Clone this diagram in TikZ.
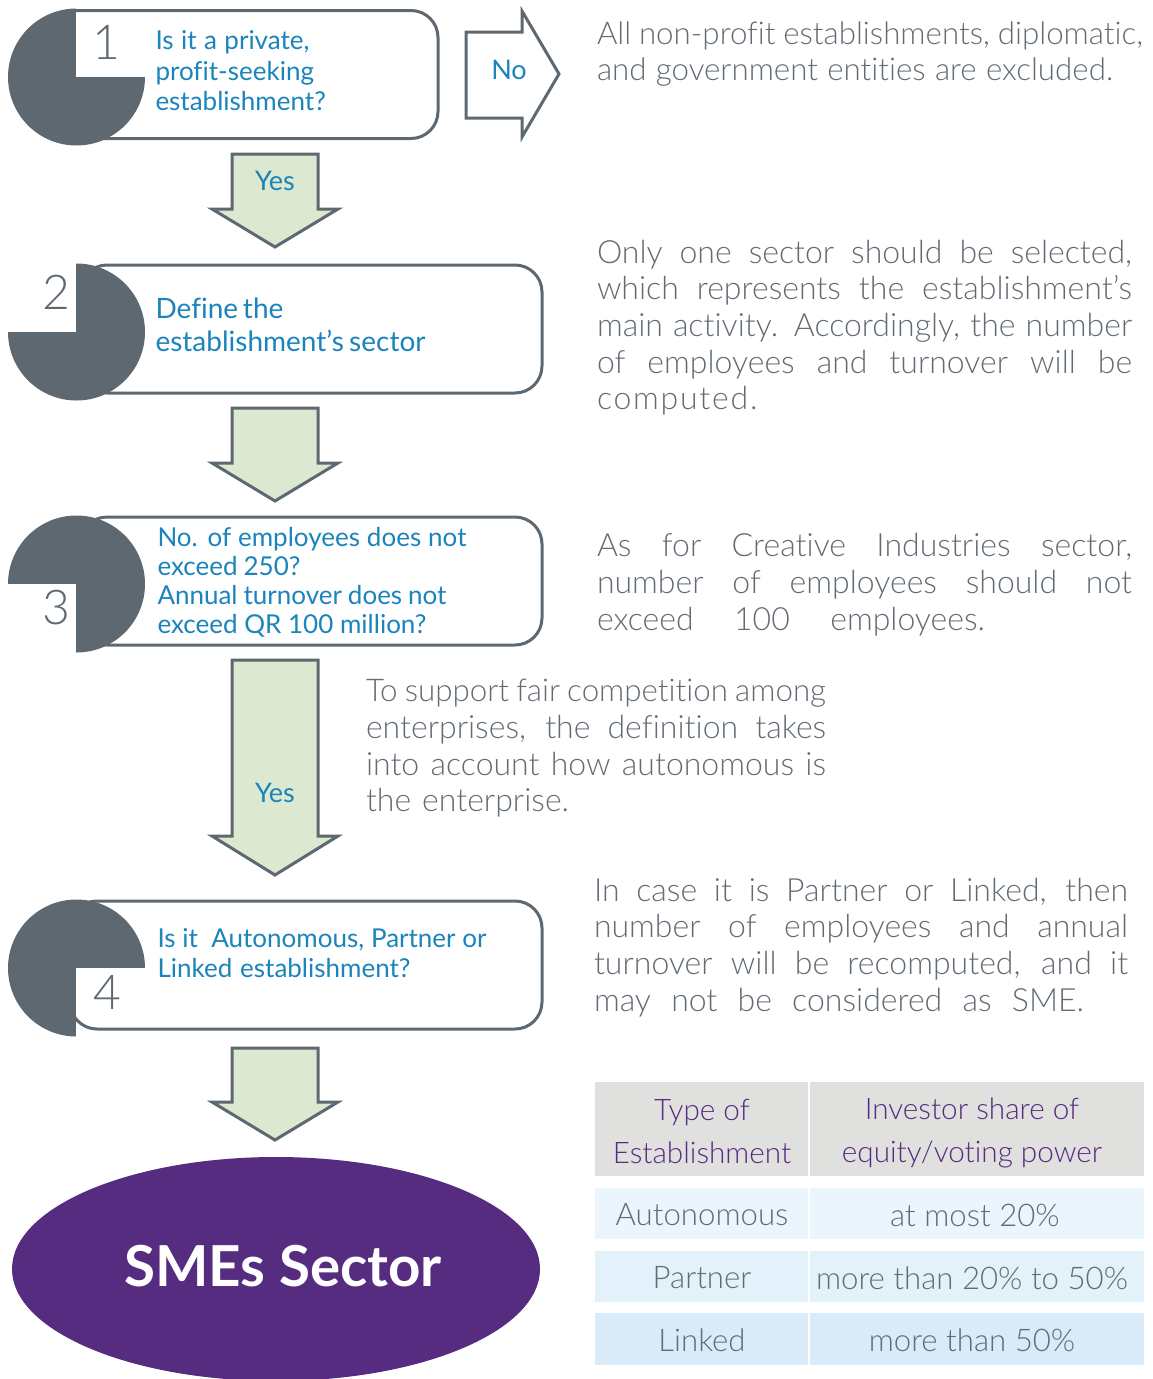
\documentclass[tikz,border=0pt]{standalone}
\usepackage{fontspec}
\setmainfont{Lato Light}[Ligatures=CommonOff]
\newfontfamily\boldf{Lato}[BoldFont={* Bold},Ligatures=CommonOff]
\definecolor{slate}{HTML}{5D6871}
\definecolor{greytxt}{HTML}{626B73}
\definecolor{bluetxt}{HTML}{1B84BC}
\definecolor{leaf}{HTML}{DCE8CF}
\definecolor{grape}{HTML}{562C80}
\definecolor{headgrey}{HTML}{E0E0DF}
\definecolor{rowa}{HTML}{EAF5FC}
\definecolor{rowb}{HTML}{E3F1FA}
\definecolor{rowc}{HTML}{D9EBF9}
\tikzset{
  x=1pt,y=-1pt,
  line/.style={anchor=base west,inner sep=0pt,outer sep=0pt},
  body/.style={line,text=greytxt,font=\fontsize{32}{36}\selectfont},
  tightbody/.style={line,text=greytxt,font=\fontsize{31.3}{36}\selectfont},
  ask/.style={line,text=bluetxt,font=\fontsize{26}{30}\selectfont\boldf},
  asklarge/.style={line,text=bluetxt,font=\fontsize{28}{32}\selectfont\boldf},
  num/.style={anchor=center,inner sep=0pt,text=slate,font=\fontsize{48}{50}\selectfont},
  arrowlabel/.style={anchor=center,inner sep=0pt,text=bluetxt,font=\fontsize{27}{30}\selectfont\boldf},
  blockarrow/.style={draw=slate,line width=3pt,miter limit=10,line join=miter},
  cellhead/.style={anchor=center,inner sep=0pt,align=center,text=grape,font=\fontsize{29.7}{43}\selectfont},
  cell/.style={anchor=center,inner sep=0pt,text=greytxt,font=\fontsize{31.2}{36}\selectfont},
}
% name, x, baseline y, width, text, style
\newcommand{\fitline}[6]{\node[#6] (#1) at (#2,#3) {\makebox[#4pt][s]{#5}};}
% x-left, top, x-right, bottom, centre y, quadrant rectangle
\newcommand{\stepshape}[6]{%
  \fill[white,rounded corners=27pt] (#1,#2) rectangle (#3,#4);
  \fill[slate] (76.5,#5) circle[radius=68.5pt];
  \fill[white] #6;
  \draw[slate,line width=3pt,rounded corners=27pt] (#1,#2) rectangle (#3,#4);
}
% top, shoulder, tip
\newcommand{\blockdown}[3]{%
  \draw[blockarrow,fill=leaf] (232,#1) -- (318,#1) -- (318,#2) -- (338,#2) -- (275,#3) -- (212,#2) -- (232,#2) -- cycle;
}
\begin{document}
\begin{tikzpicture}
\useasboundingbox (0,0) rectangle (1152,1379);

% step shapes
\stepshape{50}{10.5}{438}{138.5}{77}{(76,6) rectangle (147,77)}
\stepshape{80}{265}{542}{393}{332}{(5,261) rectangle (76,332)}
\stepshape{80}{517}{542}{645}{584}{(5,584) rectangle (76,656)}
\stepshape{70}{901}{542}{1029}{968}{(76,968) rectangle (147,1040)}

\node[num] (n1) at (106,42) {1};
\node[num] (n2) at (56,292) {2};
\node[num] (n3) at (56,608) {3};
\node[num] (n4) at (107,992) {4};

% questions
\fitline{qa}{155.5}{49}{154}{Is it a private,}{ask}
\fitline{qb}{155.5}{80}{158}{profit-seeking}{ask}
\fitline{qc}{155.5}{110}{171}{establishment?}{ask}
\fitline{qd}{155.5}{318}{127}{Define the}{asklarge}
\fitline{qe}{155.5}{351}{270}{establishment’s sector}{asklarge}
\fitline{qf}{157.5}{546}{309}{No. of employees does not}{ask}
\fitline{qg}{157.5}{575}{143}{exceed 250?}{ask}
\fitline{qh}{157.5}{604}{289}{Annual turnover does not}{ask}
\fitline{qi}{157.5}{633}{269}{exceed QR 100 million?}{ask}
\fitline{qj}{157.5}{947}{329}{Is it \ Autonomous, Partner or}{ask}
\fitline{qk}{157.5}{977}{253}{Linked establishment?}{ask}

% arrows
\draw[blockarrow,fill=white] (466,32) -- (522,32) -- (522,11) -- (559,74) -- (522,137) -- (522,118) -- (466,118) -- cycle;
\node[arrowlabel] (no) at (509,70) {No};
\blockdown{154}{209}{247}
\node[arrowlabel] (yesa) at (275,181) {Yes};
\blockdown{408}{463}{501}
\blockdown{660}{836}{875}
\node[arrowlabel] (yesb) at (275,793) {Yes};
\blockdown{1048}{1102}{1140}

% right notes
\fitline{ta}{597}{44}{546}{All non-profit establishments, diplomatic,}{tightbody}
\fitline{tb}{597}{80}{516}{and government entities are excluded.}{tightbody}

\fitline{tc}{597}{263}{535}{Only one sector should be selected,}{body}
\fitline{td}{597}{299}{535}{which represents the establishment’s}{body}
\fitline{te}{597}{336}{535}{main activity. Accordingly, the number}{body}
\fitline{tf}{597}{373}{535}{of employees and turnover will be}{body}
\node[body,font=\fontsize{32}{36}\selectfont\addfontfeature{LetterSpace=5.5}] (tg) at (597,409) {computed.};

\fitline{th}{597}{556}{535}{As for Creative Industries sector,}{body}
\fitline{ti}{597}{593}{535}{number of employees should not}{body}
\fitline{tj}{597}{630}{388}{exceed \ 100 \ employees.}{body}

\fitline{tk}{366}{701}{460}{To support fair competition among}{tightbody}
\fitline{tl}{366}{738}{460}{enterprises, the definition takes}{body}
\fitline{tm}{366}{775}{460}{into account how autonomous is}{body}
\fitline{tn}{366}{811}{203}{the enterprise.}{body}

\fitline{to}{594}{901}{534}{In case it is Partner or Linked, then}{body}
\fitline{tp}{594}{937}{534}{number of employees and annual}{body}
\fitline{tq}{594}{974}{534}{turnover will be recomputed, and it}{body}
\fitline{tr}{594}{1011}{490}{may not be considered as SME.}{body}

% end ellipse
\fill[grape] (276,1269) ellipse[x radius=264pt,y radius=112pt];
\node[anchor=center,inner sep=0pt,text=white,font=\fontsize{56.5}{60}\selectfont\boldf\bfseries] (sme) at (283,1266) {SMEs Sector};

% table
\fill[headgrey] (595,1082) rectangle (808,1176);
\fill[headgrey] (810,1082) rectangle (1144,1176);
\fill[rowa] (595,1188) rectangle (808,1239);
\fill[rowa] (810,1188) rectangle (1144,1239);
\fill[rowb] (595,1251) rectangle (808,1302);
\fill[rowb] (810,1251) rectangle (1144,1302);
\fill[rowc] (595,1313) rectangle (808,1365);
\fill[rowc] (810,1313) rectangle (1144,1365);
\node[cellhead] (ha) at (702,1131) {Type of\\Establishment};
\node[cellhead] (hb) at (972,1133) {Investor share of\\equity/voting power};
\node[cell] (ca) at (702,1215) {Autonomous};
\node[cell] (cb) at (975,1215) {at most 20\%};
\node[cell] (cc) at (702,1278) {Partner};
\node[cell] (cd) at (972,1278) {more than 20\% to 50\%};
\node[cell] (ce) at (702,1340) {Linked};
\node[cell] (cf) at (972,1340) {more than 50\%};
\end{tikzpicture}
\end{document}
